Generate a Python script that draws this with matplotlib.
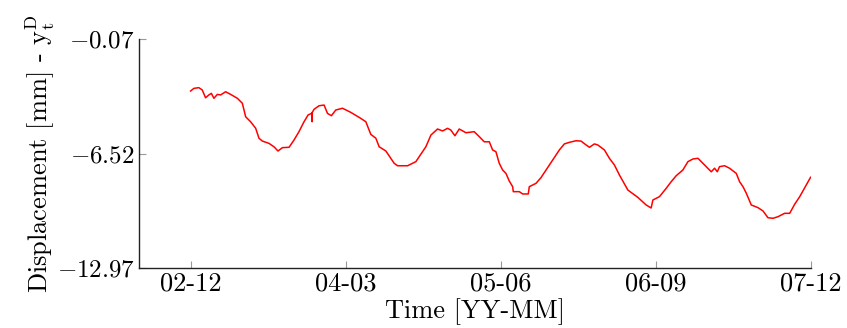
import matplotlib
matplotlib.use("Agg")
import matplotlib.pyplot as plt

# months since 2002-12
months = [0.00, 0.32, 0.80, 1.13, 1.45, 1.77, 2.01, 2.26, 2.59, 2.91, 3.39, 3.88, 4.53, 5.01,
          5.33, 5.81, 6.30, 6.62, 6.95, 7.59, 8.07, 8.46, 8.89, 9.53, 10.01, 10.49, 10.98,
          11.37, 11.70, 11.74, 11.76, 11.78, 11.95, 12.43, 12.92, 13.25, 13.63, 14.05,
          14.70, 15.50, 16.47, 16.96, 17.44, 17.93, 18.25, 18.90, 19.70, 20.03, 21.00, 21.80,
          22.12, 22.77, 23.26, 23.90, 24.39, 24.87, 25.19, 25.58, 26.00, 26.65, 27.45, 27.94,
          28.42, 28.91, 29.23, 29.55, 29.87, 30.20, 30.52, 30.84, 31.17, 31.23, 31.81, 32.14,
          32.68, 32.78, 33.43, 33.91, 34.40, 35.05, 35.69, 36.17, 36.66, 37.31, 37.79, 38.28,
          38.60, 39.08, 39.41, 40.05, 40.53, 41.02, 41.50, 42.32, 43.28, 44.09, 44.57, 44.74,
          45.38, 46.03, 46.51, 47.00, 47.64, 48.13, 48.61, 49.10, 49.42, 49.90, 50.39, 50.71,
          50.97, 51.19, 51.68, 52.16, 52.81, 53.13, 53.46, 53.78, 54.26, 54.91, 55.40, 55.88,
          56.37, 56.85, 57.49, 57.98, 58.46, 58.95, 59.59, 60.00]
displacement = [-3.00, -2.85, -2.81, -2.94, -3.38, -3.22, -3.13, -3.41, -3.19, -3.22, -3.04,
                -3.19, -3.41, -3.69, -4.45, -4.73, -5.10, -5.66, -5.82, -5.95, -6.14, -6.38,
                -6.19, -6.17, -5.76, -5.29, -4.73, -4.35, -4.26, -4.22, -4.73, -4.20, -4.03,
                -3.83, -3.79, -4.26, -4.39, -4.07, -3.97, -4.20, -4.54, -4.73, -5.44, -5.66,
                -6.14, -6.38, -7.07, -7.21, -7.21, -6.98, -6.70, -6.14, -5.48, -5.14, -5.25,
                -5.10, -5.20, -5.52, -5.14, -5.35, -5.29, -5.57, -5.86, -5.86, -6.32, -6.42,
                -7.07, -7.45, -7.64, -8.07, -8.39, -8.67, -8.67, -8.80, -8.80, -8.39, -8.20,
                -7.88, -7.45, -6.89, -6.32, -5.98, -5.89, -5.80, -5.82, -6.04, -6.17, -5.98,
                -6.04, -6.32, -6.79, -7.17, -7.73, -8.58, -8.99, -9.42, -9.59, -9.14, -8.95,
                -8.48, -8.11, -7.77, -7.45, -6.98, -6.83, -6.79, -6.98, -7.26, -7.55, -7.35,
                -7.55, -7.26, -7.21, -7.35, -7.64, -8.11, -8.39, -8.76, -9.42, -9.57, -9.76,
                -10.14, -10.17, -10.08, -9.89, -9.89, -9.38, -8.95, -8.29, -7.86]

xtick_pos = [0, 15, 30, 45, 60]
xtick_labels = ["02-12", "04-03", "05-06", "06-09", "07-12"]
ytick_pos = [-12.97, -6.52, -0.07]
ytick_labels = [r"$-12.97$", r"$-6.52$", r"$-0.07$"]

plt.rcParams["font.family"] = "serif"
plt.rcParams["font.serif"] = ["cmr10"]
plt.rcParams["mathtext.fontset"] = "cm"
plt.rcParams["axes.unicode_minus"] = False

fig = plt.figure(figsize=(8.47, 3.28), dpi=100)
ax = fig.add_axes([0.164, 0.183, 0.793, 0.698])
ax.plot(months, displacement, color="#ff0000", lw=1.1)
ax.set_xlim(-5, 60)
ax.set_ylim(-12.97, -0.07)
ax.set_xticks(xtick_pos)
ax.set_xticklabels(xtick_labels, fontsize=19)
ax.set_yticks(ytick_pos)
ax.set_yticklabels(ytick_labels, fontsize=18)
ax.tick_params(direction="in", length=5, color="#999999", width=0.8, pad=3)
for s in ["top", "right"]:
    ax.spines[s].set_visible(False)
for s in ["left", "bottom"]:
    ax.spines[s].set_linewidth(1.0)
    ax.spines[s].set_color("#222222")
ax.set_xlabel("Time [YY-MM]", fontsize=19, labelpad=2)
ax.set_ylabel(r"Displacement [mm] - $\mathrm{y}_\mathrm{t}^\mathrm{D}$", fontsize=19, labelpad=0)
fig.savefig("out.png", dpi=100)
